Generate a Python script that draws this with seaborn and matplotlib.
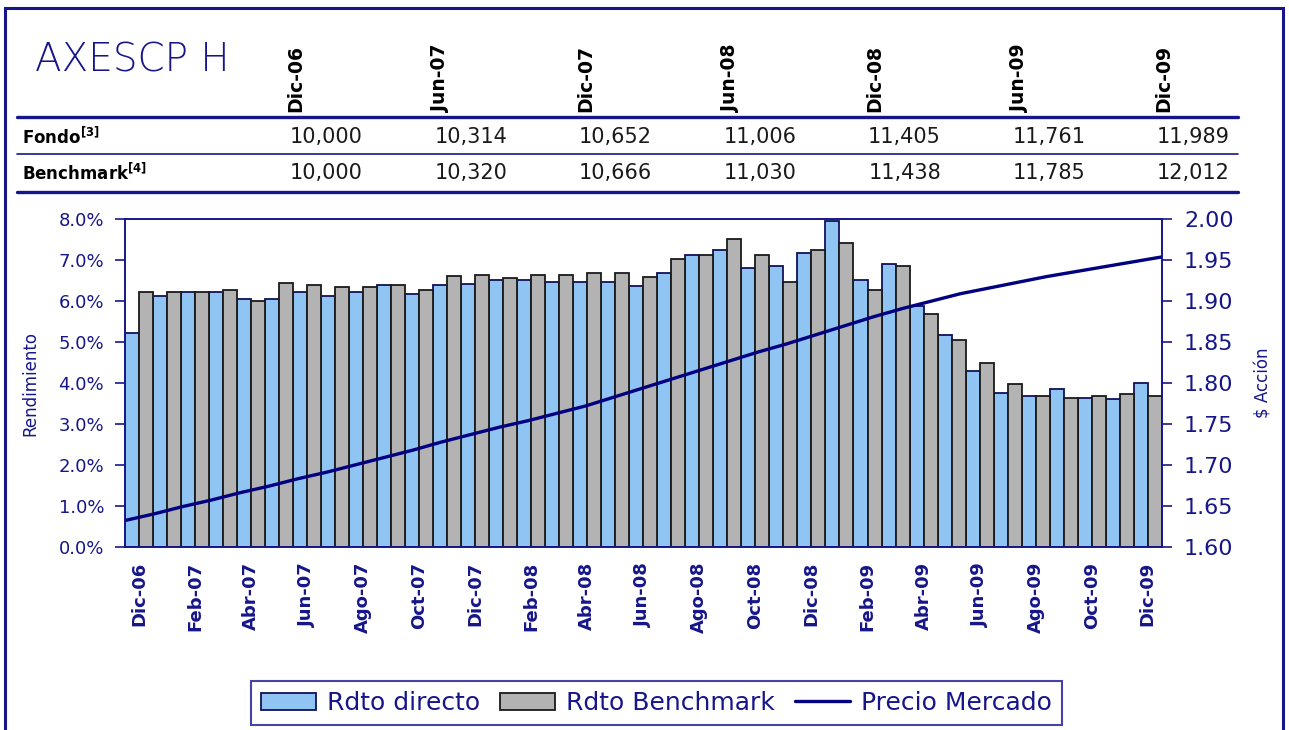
import numpy as np
import pandas as pd
import matplotlib
matplotlib.use("Agg")
import matplotlib.pyplot as plt
import seaborn as sns
from matplotlib.lines import Line2D
from matplotlib.patches import Patch, Rectangle

# datos
meses = ["Dic-06", "Ene-07", "Feb-07", "Mar-07", "Abr-07", "May-07", "Jun-07", "Jul-07",
         "Ago-07", "Sep-07", "Oct-07", "Nov-07", "Dic-07", "Ene-08", "Feb-08", "Mar-08",
         "Abr-08", "May-08", "Jun-08", "Jul-08", "Ago-08", "Sep-08", "Oct-08", "Nov-08",
         "Dic-08", "Ene-09", "Feb-09", "Mar-09", "Abr-09", "May-09", "Jun-09", "Jul-09",
         "Ago-09", "Sep-09", "Oct-09", "Nov-09", "Dic-09"]
rdto_directo = [5.21, 6.13, 6.22, 6.22, 6.05, 6.05, 6.22, 6.13, 6.22, 6.39, 6.17, 6.39,
                6.43, 6.51, 6.51, 6.47, 6.47, 6.47, 6.38, 6.69, 7.12, 7.25, 6.82, 6.86,
                7.17, 7.97, 6.51, 6.91, 5.87, 5.17, 4.30, 3.75, 3.69, 3.86, 3.64, 3.60, 3.99]
rdto_bench = [6.22, 6.22, 6.22, 6.27, 6.00, 6.44, 6.39, 6.35, 6.35, 6.39, 6.27, 6.61,
              6.65, 6.56, 6.65, 6.65, 6.69, 6.69, 6.60, 7.04, 7.12, 7.51, 7.12, 6.47,
              7.25, 7.43, 6.27, 6.86, 5.69, 5.04, 4.48, 3.97, 3.69, 3.64, 3.69, 3.74, 3.69]
precio = [1.632, 1.640, 1.649, 1.657, 1.666, 1.674, 1.683, 1.691, 1.700, 1.709, 1.718, 1.728,
          1.737, 1.746, 1.754, 1.763, 1.772, 1.783, 1.794, 1.805, 1.816, 1.827, 1.838, 1.848,
          1.859, 1.870, 1.881, 1.891, 1.900, 1.909, 1.916, 1.923, 1.930, 1.936, 1.942, 1.948, 1.954]

fechas_tabla = ["Dic-06", "Jun-07", "Dic-07", "Jun-08", "Dic-08", "Jun-09", "Dic-09"]
fondo = [10000, 10314, 10652, 11006, 11405, 11761, 11989]
benchmark = [10000, 10320, 10666, 11030, 11438, 11785, 12012]

NAVY = "#16168a"
AZUL = "#8fc4f3"
GRIS = "#b3b3b3"

sns.set_style("white")
plt.rcParams["font.family"] = ["DejaVu Sans"]

W, H = 1289, 730
fig = plt.figure(figsize=(W / 100, H / 100), dpi=100)

def fx(px):
    return px / W

def fy(py):
    return (H - py) / H

# marco exterior
fig.patches.append(Rectangle((fx(5), fy(760)), fx(1283) - fx(5), fy(8) - fy(760),
                             transform=fig.transFigure, fill=False, edgecolor=NAVY,
                             linewidth=2.2, clip_on=False))

# titulo y tabla
fig.text(fx(35), fy(72), "AXESCP H", fontsize=28, color=NAVY, ha="left", va="baseline",
         fontweight="light")
for i, f in enumerate(fechas_tabla):
    fig.text(fx(296 + 144.7 * i), fy(112), f, rotation=90, ha="center", va="bottom",
             fontsize=13.5, fontweight="bold", color="black")
    fig.text(fx(363 + 144.5 * i), fy(137), f"{fondo[i]:,}", ha="right", va="center",
             fontsize=15, color="#1a1a1a")
    fig.text(fx(363 + 144.5 * i), fy(173), f"{benchmark[i]:,}", ha="right", va="center",
             fontsize=15, color="#1a1a1a")
fig.text(fx(22), fy(137), r"Fondo$^{\mathbf{[3]}}$", ha="left", va="center", fontsize=12,
         fontweight="bold", color="black")
fig.text(fx(22), fy(173), r"Benchmark$^{\mathbf{[4]}}$", ha="left", va="center", fontsize=12,
         fontweight="bold", color="black")
for yy, lw in [(117, 2.4), (154, 1.2), (192, 2.4)]:
    fig.lines.append(Line2D([fx(17), fx(1238)], [fy(yy), fy(yy)], transform=fig.transFigure,
                            color=NAVY, linewidth=lw))

# grafico principal
ax = fig.add_axes([fx(125), fy(546.7), fx(1161.7) - fx(125), fy(219.3) - fy(546.7)])
df = pd.DataFrame({
    "mes": meses * 2,
    "rend": rdto_directo + rdto_bench,
    "serie": ["Rdto directo"] * len(meses) + ["Rdto Benchmark"] * len(meses),
})
sns.barplot(data=df, x="mes", y="rend", hue="serie", palette=[AZUL, GRIS], width=1.0,
            saturation=1, linewidth=1.3, legend=False, ax=ax)
for bar in ax.containers[0]:
    bar.set_edgecolor("#10105a")
for bar in ax.containers[1]:
    bar.set_edgecolor("#1a1a1a")

# la linea del precio va de borde a borde del area (eje secundario)
n = len(meses)
x_linea = np.linspace(-0.5, n - 0.5, len(precio))
ax2 = ax.twinx()
sns.lineplot(x=x_linea, y=precio, color="#000080", linewidth=2.4, ax=ax2)

ax.set_xlim(-0.5, n - 0.5)
ax.set_ylim(0, 8)
ax2.set_ylim(1.6, 2.0)

ax.set_yticks(range(0, 9))
ax.set_yticklabels([f"{v:.1f}%" for v in range(0, 9)], fontsize=13, color=NAVY)
ax2.set_yticks(np.arange(1.60, 2.001, 0.05))
ax2.set_yticklabels([f"{v:.2f}" for v in np.arange(1.60, 2.001, 0.05)], fontsize=16, color=NAVY)

ax.set_xticks(np.arange(0, n, 2))
ax.set_xticklabels(meses[::2], rotation=90, fontsize=13, fontweight="bold", color=NAVY)
ax.set_xticks(np.arange(-0.5, n - 1, 2), minor=True)
ax.tick_params(axis="x", which="major", length=0, pad=11)
ax.tick_params(axis="x", which="minor", length=7, width=1.2, color="#222222", direction="out")
ax.tick_params(axis="y", length=7, width=1.2, color=NAVY, direction="out", pad=8, left=True)
ax2.tick_params(axis="y", length=7, width=1.2, color=NAVY, direction="out", pad=9, right=True)

ax.set_xlabel("")
ax.set_ylabel("Rendimiento", fontsize=12, color=NAVY, labelpad=14)
ax2.set_ylabel(r"\$ Acción", fontsize=12, color=NAVY, labelpad=15, rotation=90)

for a in (ax, ax2):
    for s in a.spines.values():
        s.set_color(NAVY)
        s.set_linewidth(1.2)
        s.set_visible(True)

# leyenda
handles = [Patch(facecolor=AZUL, edgecolor="#10105a", linewidth=1.3),
           Patch(facecolor=GRIS, edgecolor="#1a1a1a", linewidth=1.3),
           Line2D([0], [0], color="#000080", linewidth=2.4)]
leg = fig.legend(handles, ["Rdto directo", "Rdto Benchmark", "Precio Mercado"], ncol=3,
                 loc="center", bbox_to_anchor=(fx(656.5), fy(703)), fontsize=18,
                 frameon=True, fancybox=False, handlelength=2.2, handleheight=0.7,
                 handletextpad=0.45, columnspacing=0.8, borderpad=0.4)
leg.get_frame().set_edgecolor(NAVY)
leg.get_frame().set_linewidth(1.5)
for t in leg.get_texts():
    t.set_color(NAVY)

fig.savefig("out.png", dpi=100)
